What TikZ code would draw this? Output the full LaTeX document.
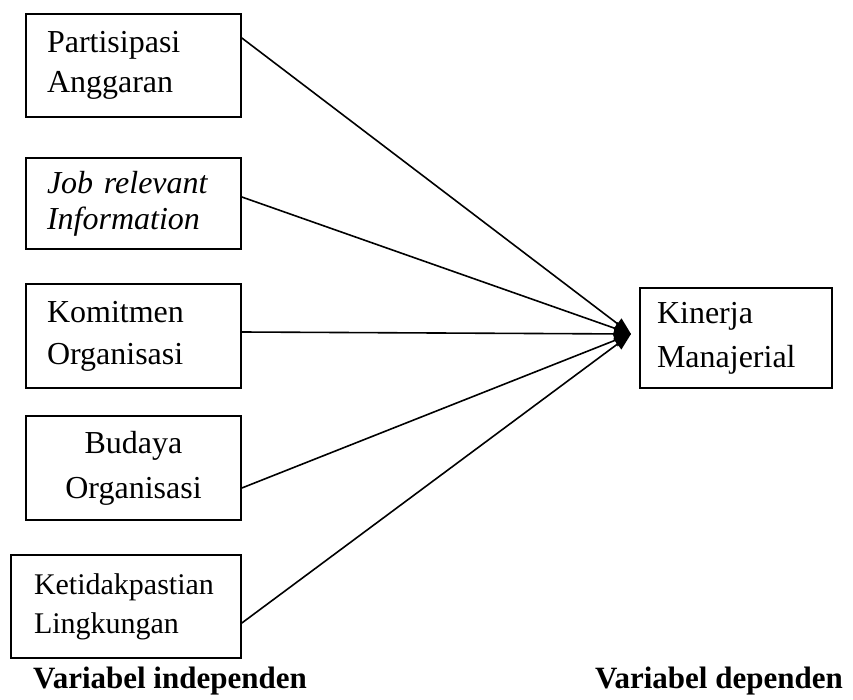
\documentclass[tikz,border=0pt]{standalone}
\usepackage{fontspec}
\setmainfont{Liberation Serif}
\usetikzlibrary{arrows.meta,positioning}

\begin{document}
\begin{tikzpicture}[
    x=1pt, y=-1pt,
    box/.style={rectangle, draw, line width=1.7pt, inner xsep=21pt, inner ysep=0pt, font=\fontsize{32}{40}\selectfont, align=left, text width=173pt},
    indep/.style={box, minimum height=103pt},
    dep/.style={box, inner xsep=17pt, text width=158pt, minimum height=100pt},
    link/.style={line width=1.6pt, -{Triangle[length=17pt,width=13pt]}},
    label/.style={font=\fontsize{31}{36}\selectfont\bfseries, inner sep=0pt}
  ]
    \useasboundingbox (0,0) rectangle (853,700);

    % Independent variables
    \node[indep] (partisipasi) at (133.5,65.5) {Partisipasi\\Anggaran};
    \node[indep, minimum height=91pt, font=\fontsize{32}{36}\selectfont\itshape] (jobinfo) at (133.5,203.5) {Job relevant\\Information};
    \node[indep, minimum height=104pt, font=\fontsize{32}{42}\selectfont] (komitmen) at (133.5,336) {Komitmen\\Organisasi};
    \node[indep, minimum height=104pt, font=\fontsize{32}{45}\selectfont, align=center] (budaya) at (133.5,468) {Budaya\\Organisasi};
    \node[indep, inner xsep=23pt, text width=184pt, font=\fontsize{30}{39}\selectfont] (lingkungan) at (126,606.5) {Ketidakpastian\\Lingkungan};

    % Dependent variable
    \node[dep, font=\fontsize{32}{44}\selectfont] (kinerja) at (736,338) {Kinerja\\Manajerial};
    \coordinate (tip) at (631,334);

    % Labels
    \node[label, anchor=base west] (indeplabel) at (33,688) {Variabel independen};
    \node[label, anchor=base east] (deplabel) at (843,688) {Variabel dependen};

    % Arrows
    \draw[link] ([yshift=27.5pt]partisipasi.east) -- (tip);
    \draw[link] ([yshift=6.5pt]jobinfo.east) -- (tip);
    \draw[link] ([yshift=4pt]komitmen.east) -- (tip);
    \draw[link] ([yshift=-20pt]budaya.east) -- (tip);
    \draw[link] ([yshift=-16.5pt]lingkungan.east) -- (tip);
  \end{tikzpicture}
\end{document}
